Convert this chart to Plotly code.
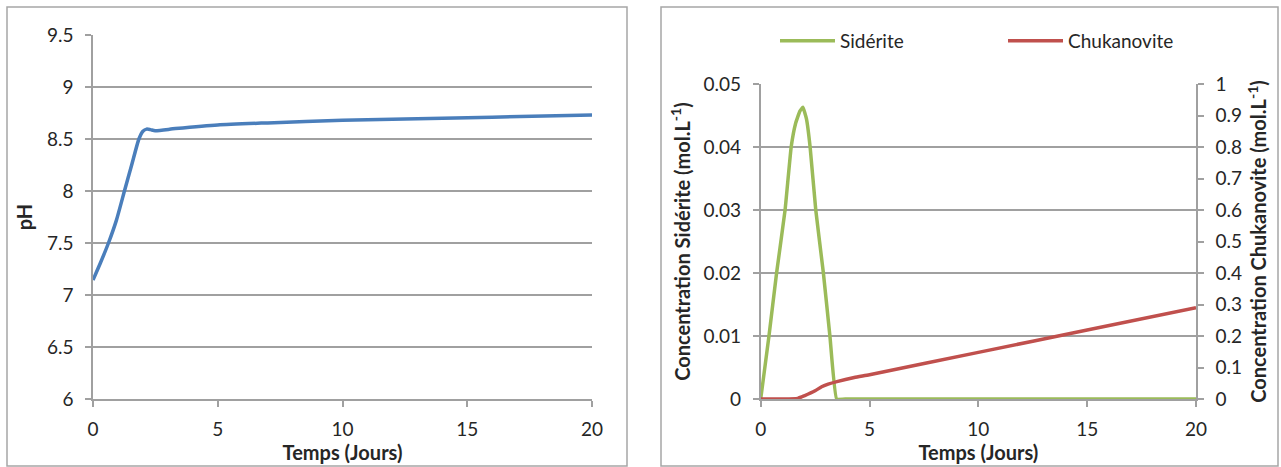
import plotly.graph_objects as go

W, H = 1281, 467

# ---- data ----
t_ph = [0, 0.3, 0.62, 0.94, 1.26, 1.55, 1.84, 2.0, 2.15, 2.3, 2.49, 3.3, 5, 7, 10, 13, 16, 20]
ph = [7.144, 7.31, 7.5, 7.72, 8.0, 8.25, 8.5, 8.575, 8.595, 8.59, 8.58, 8.60, 8.635, 8.655, 8.68, 8.695, 8.71, 8.73]

t_sid = [0, 0.38, 0.73, 1.12, 1.40, 1.6, 1.8, 1.94, 2.1, 2.27, 2.53, 2.88, 3.18, 3.49, 4, 10, 15, 20]
siderite = [0, 0.01, 0.02, 0.03, 0.04, 0.0437, 0.0457, 0.0463, 0.0445, 0.04, 0.03, 0.02, 0.01, 0, 0, 0, 0, 0]

t_chuk = [0, 1.0, 1.7, 2.0, 2.5, 2.8, 3.1, 3.5, 4.3, 5, 10, 15, 20]
chukanovite = [0, 0, 0.002, 0.010, 0.026, 0.039, 0.047, 0.055, 0.068, 0.077, 0.148, 0.219, 0.29]

ph_ticks = [6, 6.5, 7, 7.5, 8, 8.5, 9, 9.5]

# ---- style ----
FONT = "Lato"
TXT = "#262626"
GRID = "#A0A0A0"
BLUE = "#4A7EBB"
GREEN = "#9BBB59"
RED = "#C0504D"

def px(x):
    return x / W

def py(y):
    return 1 - y / H

fig = go.Figure()

fig.add_trace(go.Scatter(x=t_ph, y=ph, mode="lines", line=dict(color=BLUE, width=3.5, shape="spline", smoothing=0.6),
                         xaxis="x", yaxis="y", showlegend=False))
fig.add_trace(go.Scatter(x=t_sid, y=siderite, mode="lines", name="Sidérite",
                         line=dict(color=GREEN, width=3.5, shape="spline", smoothing=0.3),
                         xaxis="x2", yaxis="y2", legend="legend"))
fig.add_trace(go.Scatter(x=t_chuk, y=chukanovite, mode="lines", name="Chukanovite",
                         line=dict(color=RED, width=3.5, shape="spline", smoothing=0.5),
                         xaxis="x2", yaxis="y3", legend="legend2"))

tickfont = dict(family=FONT, size=19, color=TXT)
titlefont = dict(family=FONT, size=20, color=TXT, weight="bold")

common_x = dict(range=[0, 20], dtick=5, tick0=0, showgrid=False, showline=True, linecolor=GRID, linewidth=1.5,
                ticks="outside", ticklen=6, tickcolor=GRID, tickwidth=1.5, tickfont=tickfont, zeroline=False,
                ticklabelstandoff=6,
                title=dict(text="Temps (Jours)", font=titlefont, standoff=3), fixedrange=True)

fig.update_layout(
    width=W, height=H,
    margin=dict(l=0, r=0, t=0, b=0, autoexpand=False),
    paper_bgcolor="white", plot_bgcolor="white",
    xaxis=dict(domain=[px(93), px(592)], anchor="y", **common_x),
    yaxis=dict(domain=[py(399), py(35)], anchor="x", range=[6, 9.5], tickvals=ph_ticks,
               showgrid=True, gridcolor=GRID, gridwidth=1.5, showline=True, linecolor=GRID, linewidth=1.5,
               ticks="outside", ticklen=6, tickcolor=GRID, tickwidth=1.5, tickfont=tickfont, zeroline=False,
               ticklabelstandoff=8,
               title=dict(text="pH", font=titlefont, standoff=9)),
    xaxis2=dict(domain=[px(760.7), px(1196)], anchor="y2", **common_x),
    yaxis2=dict(domain=[py(399), py(84)], anchor="x2", range=[0, 0.05], dtick=0.01,
                showgrid=True, gridcolor=GRID, gridwidth=1.5, showline=True, linecolor=GRID, linewidth=1.5,
                ticks="outside", ticklen=6, tickcolor=GRID, tickwidth=1.5, tickfont=tickfont, zeroline=False,
                ticklabelstandoff=8,
                title=dict(text="Concentration Sidérite (mol.L<sup>-1</sup>)", font=titlefont, standoff=8)),
    yaxis3=dict(domain=[py(399), py(84)], anchor="x2", overlaying="y2", side="right", range=[0, 1], dtick=0.1,
                showgrid=False, showline=True, linecolor=GRID, linewidth=1.5,
                ticks="outside", ticklen=6, tickcolor=GRID, tickwidth=1.5, tickfont=tickfont, zeroline=False,
                ticklabelstandoff=8,
                title=dict(text="Concentration Chukanovite (mol.L<sup>-1</sup>)", font=titlefont, standoff=11)),
    legend=dict(x=px(775), y=py(41), xanchor="left", yanchor="middle", orientation="h",
                font=dict(family=FONT, size=19, color=TXT), itemwidth=55, bgcolor="rgba(0,0,0,0)"),
    legend2=dict(x=px(1003), y=py(41), xanchor="left", yanchor="middle", orientation="h",
                 font=dict(family=FONT, size=19, color=TXT), itemwidth=55, bgcolor="rgba(0,0,0,0)"),
    shapes=[
        dict(type="rect", xref="paper", yref="paper", x0=px(7), x1=px(627), y0=py(466), y1=py(7),
             line=dict(color="#A6A6A6", width=1.5)),
        dict(type="rect", xref="paper", yref="paper", x0=px(661), x1=px(1278), y0=py(466), y1=py(7),
             line=dict(color="#A6A6A6", width=1.5)),
    ],
)

fig.write_html("out.html", config={"displayModeBar": False},
               post_script="document.body.style.margin='0';document.body.style.overflow='hidden';")
